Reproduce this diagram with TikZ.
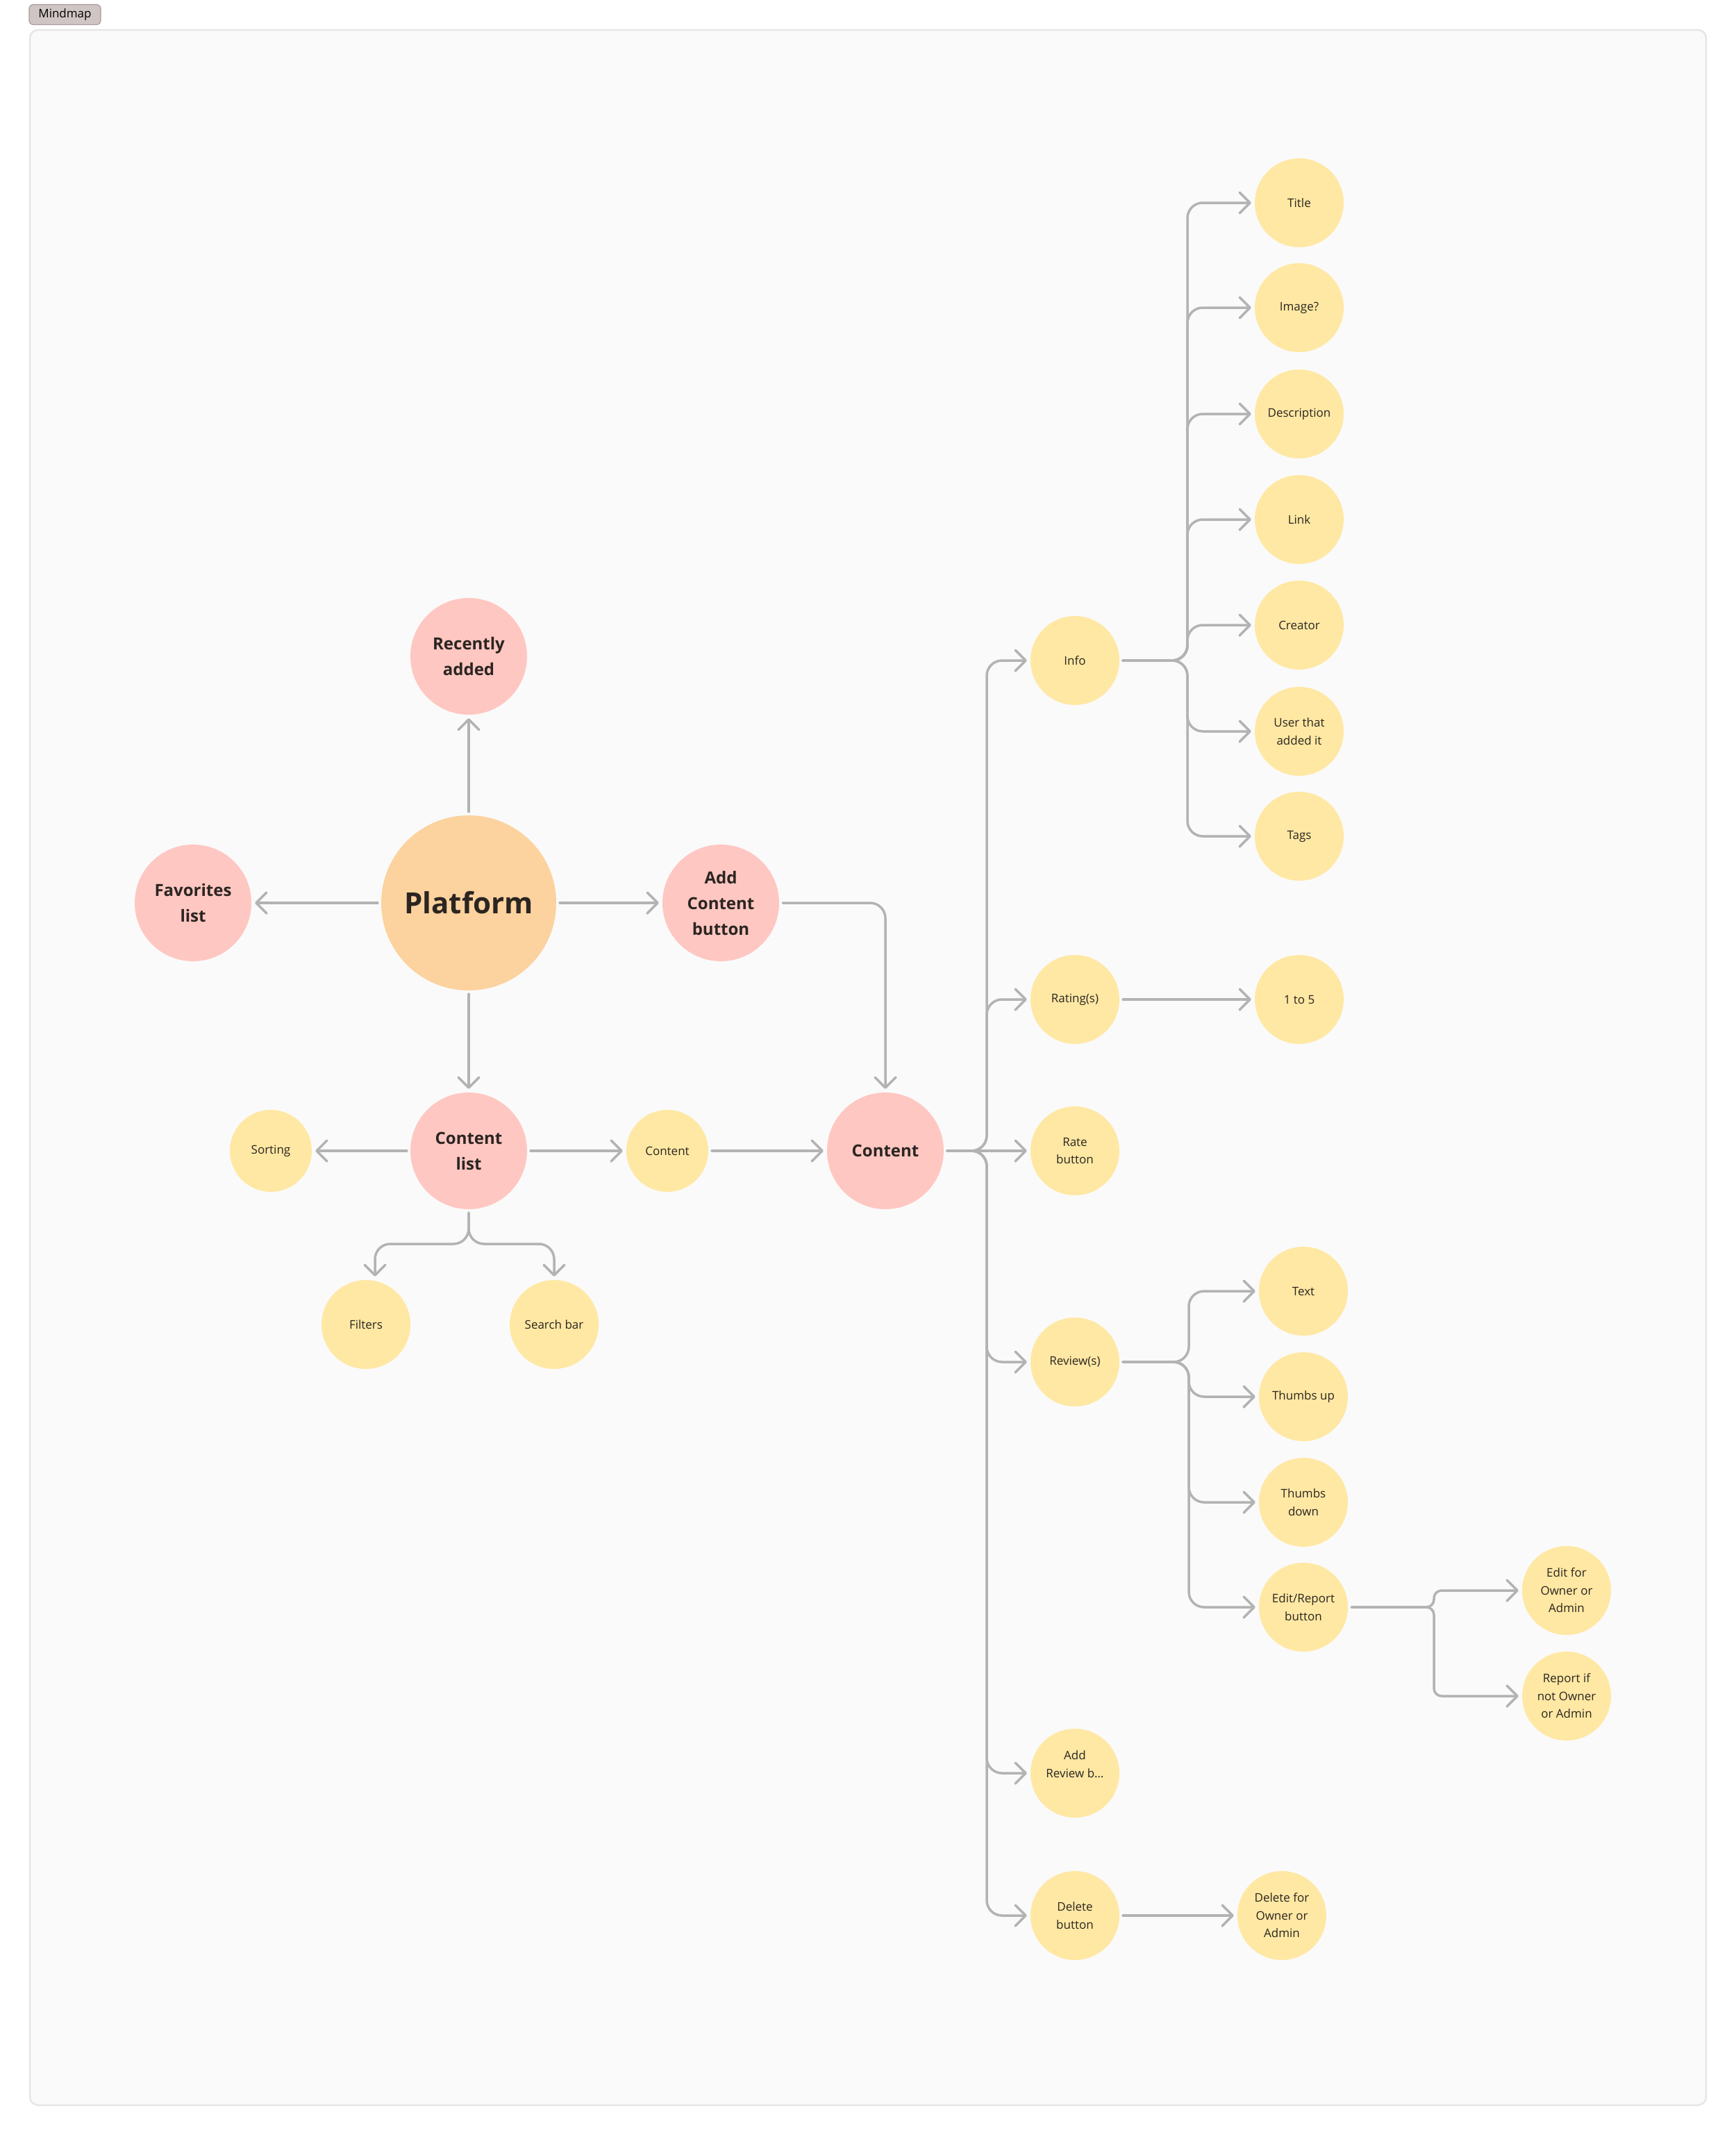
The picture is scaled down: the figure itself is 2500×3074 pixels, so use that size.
\documentclass[tikz,border=0pt]{standalone}
\usepackage{fontspec}
\setmainfont{Open Sans}
\usetikzlibrary{arrows.meta}
\definecolor{MapLine}{HTML}{B3B3B3}
\definecolor{MapInk}{HTML}{2B2521}
\definecolor{MapPeach}{HTML}{FCD29E}
\definecolor{MapPink}{HTML}{FFC7C2}
\definecolor{MapSand}{HTML}{FFE8A3}
\definecolor{MapPaper}{HTML}{FAFAFA}
\definecolor{MapEdge}{HTML}{E6E6E6}
\definecolor{MapTag}{HTML}{D0C5C5}
\definecolor{MapTagEdge}{HTML}{A89C9C}

\begin{document}
\begin{tikzpicture}[x=1pt,y=-1pt,
  hub/.style={circle,fill=MapPeach,text=MapInk,minimum size=252pt,inner sep=0pt,font=\fontsize{42}{50}\selectfont\bfseries},
  topic/.style={circle,fill=MapPink,text=MapInk,minimum size=168pt,inner sep=0pt,align=center,font=\fontsize{24}{37}\selectfont\bfseries},
  leaf/.style={circle,fill=MapSand,text=MapInk,minimum size=128pt,inner sep=0pt,align=center,font=\fontsize{17}{25.5}\selectfont},
  branch/.style={draw=MapLine,line width=3.5pt,line cap=round,rounded corners=22pt,shorten <=5pt,shorten >=5pt,-{Straight Barb[length=15pt,width=30pt,round]}}]
\useasboundingbox (0,0) rectangle (2500,3074);
\fill[white] (0,0) rectangle (2500,3074);
\draw[MapEdge,line width=2.5pt,fill=MapPaper,rounded corners=12pt] (43,43) rectangle (2457,3031);
\node[fill=MapTag,draw=MapTagEdge,line width=1.2pt,rounded corners=6pt,minimum width=103pt,minimum height=29pt,inner sep=0pt,font=\fontsize{17}{20}\selectfont] (tag) at (93.5,21) {Mindmap};

\node[hub] (plat) at (675,1300) {Platform};
\node[topic] (recent) at (675,945) {Recently\\added};
\node[topic] (favs) at (278,1300) {Favorites\\list};
\node[topic] (addc) at (1038,1300) {Add\\Content\\button};
\node[topic] (clist) at (675,1657) {Content\\list};
\node[topic] (cont) at (1275,1657) {Content};
\node[leaf,minimum size=118pt] (sorting) at (390,1657) {Sorting};
\node[leaf,minimum size=118pt] (citem) at (961,1657) {Content};
\node[leaf] (filters) at (527,1907) {Filters};
\node[leaf] (search) at (798,1907) {Search bar};

\node[leaf] (info) at (1548,951) {Info};
\node[leaf] (rating) at (1548,1439) {Rating(s)};
\node[leaf] (rate) at (1548,1657) {Rate\\button};
\node[leaf] (review) at (1548,1961) {Review(s)};
\node[leaf] (addrev) at (1548,2553) {Add\\Review b…\\~};
\node[leaf] (delb) at (1548,2758) {Delete\\button};

\node[leaf] (title) at (1871,292) {Title};
\node[leaf] (image) at (1871,443) {Image?};
\node[leaf] (descr) at (1871,596) {Description};
\node[leaf] (weblink) at (1871,748) {Link};
\node[leaf] (creator) at (1871,900) {Creator};
\node[leaf] (adder) at (1871,1053) {User that\\added it};
\node[leaf] (tags) at (1871,1204) {Tags};
\node[leaf] (onefive) at (1871,1439) {1 to 5};

\node[leaf] (text) at (1877,1859) {Text};
\node[leaf] (thup) at (1877,2011) {Thumbs up};
\node[leaf] (thdown) at (1877,2163) {Thumbs\\down};
\node[leaf] (editrep) at (1877,2314) {Edit/Report\\button};
\node[leaf] (editown) at (2256,2290) {Edit for\\Owner or\\Admin};
\node[leaf] (reportnot) at (2256,2442) {Report if\\not Owner\\or Admin};
\node[leaf] (delfor) at (1846,2758) {Delete for\\Owner or\\Admin};

\coordinate (clfork) at (675,1791);
\coordinate (ctrunk) at (1421,1657);
\coordinate (itrunk) at (1710,951);
\coordinate (rtrunk) at (1712,1961);
\coordinate (etrunk) at (2065,2314);

\draw[branch] (plat) -- (recent);
\draw[branch] (plat) -- (favs);
\draw[branch] (plat) -- (addc);
\draw[branch] (plat) -- (clist);
\draw[branch] (addc) -| (cont);
\draw[branch] (clist) -- (sorting);
\draw[branch] (clist) -- (citem);
\draw[branch] (citem) -- (cont);
\draw[branch] (clist) -- (clfork) -| ([xshift=13pt]filters.north);
\draw[branch] (clist) -- (clfork) -| (search);

\draw[branch] (cont) -- (rate);
\foreach \n in {info,rating,review,addrev,delb}
  \draw[branch] (cont) -- (ctrunk) |- (\n);
\foreach \n in {title,image,descr,weblink,creator,adder,tags}
  \draw[branch] (info) -- (itrunk) |- (\n);
\draw[branch] (rating) -- (onefive);
\foreach \n in {text,thup,thdown,editrep}
  \draw[branch] (review) -- (rtrunk) |- (\n);
\foreach \n in {editown,reportnot}
  \draw[branch,rounded corners=11pt] (editrep) -- (etrunk) |- (\n);
\draw[branch] (delb) -- (delfor);
\end{tikzpicture}
\end{document}
